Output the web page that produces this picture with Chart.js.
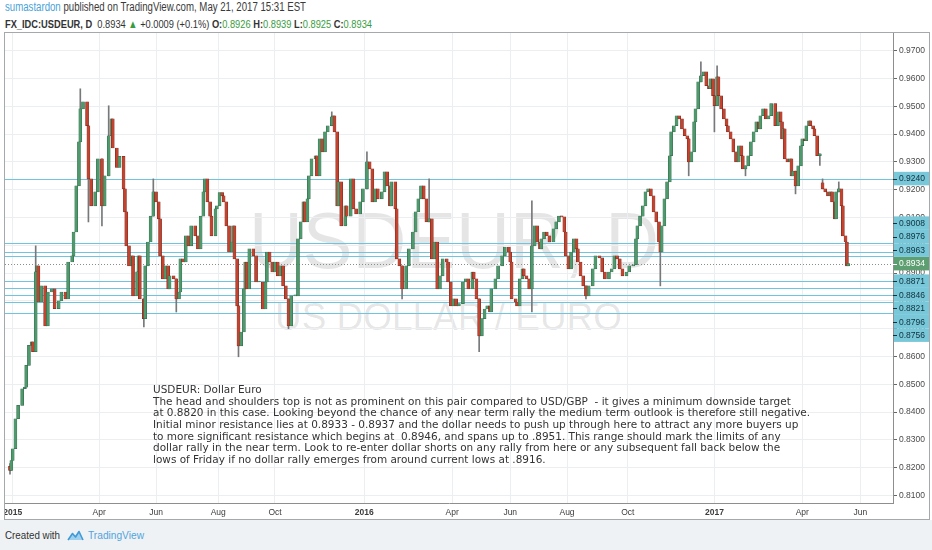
<!DOCTYPE html>
<html>
<head>
<meta charset="utf-8">
<script src="https://cdn.jsdelivr.net/npm/chart.js@4.4.1/dist/chart.umd.min.js"></script>
<style>
	html, body { margin:0; padding:0; }
	body { width:932px; height:550px; position:relative; overflow:hidden; background:#fff; font-family:'Liberation Sans', Arial, sans-serif; color:#333; }
	.fit { position:absolute; white-space:pre; transform-origin:0 0; }
	#hdr1 { left:5px; top:0px; font-size:12.5px; line-height:15px; color:#3a3a3a; }
	#hdr1 .user { color:#4aa3d8; }
	#hdr2 { left:5px; top:17px; font-size:11.5px; line-height:15px; color:#333; }
	#hdr2 .up { color:#3a9c40; }
	#box { position:absolute; left:4px; top:32px; width:924px; height:486px; border:1px solid #a6a9ac; }
	#box canvas { position:absolute; left:0; top:0; }
	.wm { position:absolute; white-space:pre; transform-origin:0 0; color:rgba(0,0,0,0.10); }
	#wm1 { left:244px; top:168px; font-size:80px; line-height:80px; }
	#wm2 { left:270px; top:264px; font-size:39px; line-height:39px; }
	#note { left:147.7px; top:351.4px; font-family:'DejaVu Sans', Verdana, sans-serif; font-size:11px; line-height:11.55px; color:#333; }
	#foot { position:absolute; left:0; top:520px; width:932px; height:30px; background:#eff2f5; }
	#foot .fit { top:0; line-height:30px; font-size:11.5px; }
	#created { left:5px; color:#333; }
	#tvname { left:88px; color:#4fa5dc; }
	#logo { position:absolute; left:67px; top:9px; }
</style>
</head>
<body>
<div id="hdr1" class="fit"><span class="user">sumastardon</span> published on TradingView.com, May 21, 2017 15:31 EST</div>
<div id="hdr2" class="fit"><b>FX_IDC:USDEUR, D</b>  0.8934 <span class="up">&#9650;</span> +0.0009 (+0.1%) <b>O:</b><span class="up">0.8926</span> <b>H:</b><span class="up">0.8939</span> <b>L:</b><span class="up">0.8925</span> <b>C:</b><span class="up">0.8934</span></div>

<div id="box">
	<div id="wm1" class="wm">USDEUR, D</div>
	<div id="wm2" class="wm">US DOLLAR / EURO</div>
	<canvas id="chart" width="924" height="486" style="width:924px;height:486px"></canvas>
	<div id="note" class="fit">USDEUR: Dollar Euro
<span id="noteRef">The head and shoulders top is not as prominent on this pair compared to</span> USD/GBP  - it gives a minimum downside target
at 0.8820 in this case. Looking beyond the chance of any near term rally the medium term outlook is therefore still negative.
Initial minor resistance lies at 0.8933 - 0.8937 and the dollar needs to push up through here to attract any more buyers up
to more significant resistance which begins at  0.8946, and spans up to .8951. This range should mark the limits of any
dollar rally in the near term. Look to re-enter dollar shorts on any rally from here or any subsequent fall back below the
lows of Friday if no dollar rally emerges from around current lows at .8916.</div>
</div>

<div id="foot">
	<div id="created" class="fit">Created with</div>
	<svg id="logo" width="17" height="12" viewBox="0 0 17 12">
		<path d="M1 11 L5.5 4.5 L8.5 8 L12 2.5 L16 11 Z" fill="#9fd0ee"/>
		<path d="M1 11 L5.5 4.5 L8.5 8 L12 2.5 L16 11" fill="none" stroke="#3f9ad6" stroke-width="1.6" stroke-linejoin="round"/>
	</svg>
	<div id="tvname" class="fit">TradingView</div>
</div>

<script>
// trading-day index (from 2 Jan 2015) and daily close
const days = [
	0,1,2,4,6,9,11,12,14,16,
	17,19,20,21,23,26,28,31,33,36,
	38,41,43,46,47,49,51,52,54,57,
	58,60,63,65,68,70,73,75,76,79,
	81,84,85,86,88,90,91,94,95,96,
	99,100,102,104,106,108,110,111,113,115,
	117,118,121,123,125,126,128,130,132,134,
	137,139,141,143,144,146,148,149,152,153,
	155,157,158,160,162,164,165,166,168,169,
	171,173,174,175,177,180,182,184,187,189,
	190,192,194,196,198,200,202,204,206,208,
	211,213,215,217,218,220,221,223,226,227,
	229,231,233,235,238,239,240,242,243,245,
	248,249,252,254,256,259,261,264,266,268,
	270,272,275,277,279,281,282,285,286,288,
	290,293,295,298,300,302,304,306,308,310,
	312,314,316,318,320,323,324,326,328,330,
	332,335,337,339,342,343,345,347,349,351,
	353,355,356,359,361,364,366,369,370,371,
	374,375,377,379,380,382,384,386,388,390,
	392,393,395,397,399,402,404,406,408,410,
	411,413,415,417,419,420,422,424,426,428,
	431,433,436,438,440,443,445,447,449,451,
	453,456,458,461,463,464,466,468,470,472,
	474,476,478,480,481,482,484,486,488,489,
	491,493,495,497,499,501,502,504,506,507,
	509,511,513,515,517,518,520,521,523,524,
	526,528,530,531,533,535,537,539,541,542,
	544,546,548,550,552,554,555,557,559,561,
	563,566,568,570,571,572,573,575,577,578,
	579,581,583,585,586,588,589,591,592,594,
	595,597,599,601,603,605,607,608,610,611,
	613,615,616,618,619,620
];
const closes = [
	.8190,.8226,.8268,.8376,.8424,.8484,.8490,.8568,.8640,.8653,
	.8617,.8905,.8926,.8796,.8854,.8710,.8832,.8843,.8772,.8800,
	.8832,.8807,.8940,.8962,.9048,.9214,.9372,.9491,.9516,.9430,
	.9239,.9142,.9192,.9311,.9142,.9250,.9394,.9455,.9350,.9280,
	.9320,.9203,.9120,.8998,.8926,.8962,.8818,.8905,.8962,.8807,
	.8736,.8926,.9012,.9105,.9192,.9156,.9095,.8962,.8879,.8926,
	.8843,.8890,.8879,.8807,.8832,.8951,.8940,.9034,.8998,.9070,
	.9034,.8987,.9105,.9192,.9239,.9156,.9105,.9034,.9131,.9142,
	.9190,.9178,.9156,.9070,.8976,.9012,.9070,.8951,.8782,.8638,
	.8688,.8843,.8940,.8843,.8987,.8962,.8868,.8868,.8771,.8868,
	.8976,.8940,.8904,.8940,.8890,.8926,.8854,.8807,.8710,.8818,
	.8818,.9023,.9084,.9156,.9084,.9167,.9250,.9311,.9322,.9250,
	.9383,.9336,.9408,.9430,.9462,.9466,.9408,.9142,.9228,.9070,
	.9142,.9105,.9239,.9131,.9113,.9156,.9203,.9300,.9275,.9156,
	.9203,.9167,.9192,.9264,.9214,.9142,.9228,.9131,.8951,.8926,
	.8843,.8926,.8987,.9048,.9120,.9167,.9214,.9167,.9084,.9095,
	.8951,.9012,.8843,.8890,.8951,.8940,.8868,.8782,.8807,.8782,
	.8790,.8868,.8879,.8843,.8904,.8879,.8807,.8674,.8736,.8771,
	.8782,.8760,.8843,.8879,.8926,.8962,.8994,.8976,.8940,.8807,
	.8796,.8782,.8879,.8915,.8890,.8879,.8843,.8998,.9070,.9012,
	.8987,.9023,.9048,.9034,.9012,.9059,.9084,.9105,.9102,.9048,
	.8962,.8915,.8976,.9023,.8987,.8940,.8890,.8854,.8818,.8854,
	.8915,.8962,.8955,.8904,.8879,.8904,.8915,.8962,.8951,.8915,
	.8890,.8904,.8926,.8930,.9023,.9070,.9105,.9142,.9192,.9203,
	.9178,.9120,.9084,.9012,.8976,.9070,.9167,.9228,.9322,.9408,
	.9430,.9466,.9455,.9419,.9394,.9383,.9300,.9336,.9444,.9491,
	.9588,.9610,.9624,.9574,.9563,.9599,.9538,.9502,.9606,.9538,
	.9491,.9455,.9430,.9408,.9383,.9336,.9300,.9358,.9322,.9275,
	.9286,.9322,.9372,.9408,.9444,.9419,.9466,.9491,.9455,.9466,
	.9510,.9430,.9480,.9444,.9383,.9419,.9311,.9300,.9311,.9250,
	.9267,.9214,.9286,.9358,.9383,.9376,.9430,.9448,.9430,.9419,
	.9394,.9322,.9329,.9203,.9192,.9178,.9192,.9156,.9095,.9192,
	.9203,.9142,.9034,.9012,.8926,.8934
];
const firstOpen = 0.8205;
// bars that opened away from the previous close (weekend gap)
const gapDays = [601];
const gapOpens = [0.9225];

// long shadows visible on the picture
const wickDays = [0,19,52,58,68,73,99,106,123,169,206,238,264,290,310,347,386,426,481,502,511,521,523,544,581,599,601,613];
const wickLows = [.8177,.8880,.9440,.9084,.9070,.9250,.8706,.9105,.8760,.8599,.8700,.9430,.9203,.8807,.9084,.8617,.8760,.8807,.8854,.9250,.9588,.9408,.9502,.9250,.9185,.9287,.9203,.9192];
const wickHighs = [.8215,.8998,.9563,.9430,.9311,.9502,.8807,.9239,.8879,.8782,.8807,.9480,.9336,.8926,.9239,.8807,.9160,.8854,.9012,.9383,.9660,.9538,.9646,.9286,.9267,.9329,.9239,.9228];

// time axis
const tickDays = [2,66,108,154,196,262,327,370,412,457,521,586,629];
const tickLabels = ['2015','Apr','Jun','Aug','Oct','2016','Apr','Jun','Aug','Oct','2017','Apr','Jun'];
// price axis
const priceTicks = [0.81,0.82,0.83,0.84,0.85,0.86,0.87,0.88,0.89,0.90,0.91,0.92,0.93,0.94,0.95,0.96,0.97];

// horizontal levels drawn by the author
const levelValues = [0.9240,0.9008,0.8976,0.8963,0.8871,0.8846,0.8821,0.8796,0.8756];
const lastPrice = 0.8934;

const UP = '#4f9a6c', UP_EDGE = '#2b6143', DOWN = '#c4432f', DOWN_EDGE = '#6a2218';

let bodyData = [], bodyFill = [], bodyEdge = [];
for (let i = 0; i < days.length; i++) {
	let g = gapDays.indexOf(days[i]);
	let open = g >= 0 ? gapOpens[g] : (i === 0 ? firstOpen : closes[i - 1]);
	bodyData.push({x: days[i], y: [open, closes[i]]});
	let up = closes[i] >= open;
	bodyFill.push(up ? UP : DOWN);
	bodyEdge.push(up ? UP_EDGE : DOWN_EDGE);
}
let wickData = wickDays.map(function (d, i) { return {x: d, y: [wickLows[i], wickHighs[i]]}; });

const levelsPlugin = {
	id: 'levels',
	beforeDatasetsDraw(chart) {
		const ctx = chart.ctx, a = chart.chartArea, y = chart.scales.y;
		ctx.save();
		ctx.lineWidth = 1;
		ctx.strokeStyle = '#6fc5dd';
		levelValues.forEach(function (v) {
			let py = Math.round(y.getPixelForValue(v)) + 0.5;
			ctx.beginPath(); ctx.moveTo(a.left, py); ctx.lineTo(a.right, py); ctx.stroke();
		});
		ctx.strokeStyle = '#8c8c8c';
		ctx.setLineDash([1, 2]);
		let py = Math.round(y.getPixelForValue(lastPrice)) + 0.5;
		ctx.beginPath(); ctx.moveTo(a.left, py); ctx.lineTo(a.right, py); ctx.stroke();
		ctx.restore();
	},
	afterDraw(chart) {
		const ctx = chart.ctx, y = chart.scales.y;
		const h = 13.5, left = y.left + 1, width = y.right - y.left - 1;
		let anchor = y.getPixelForValue(lastPrice);
		let labels = [{v: lastPrice, py: anchor, last: true}];
		let above = levelValues.filter(function (v) { return v > lastPrice; }).sort(function (p, q) { return p - q; });
		let below = levelValues.filter(function (v) { return v < lastPrice; }).sort(function (p, q) { return q - p; });
		let prev = anchor;
		above.forEach(function (v) { let p = Math.min(y.getPixelForValue(v), prev - h); labels.push({v: v, py: p}); prev = p; });
		prev = anchor;
		below.forEach(function (v) { let p = Math.max(y.getPixelForValue(v), prev + h); labels.push({v: v, py: p}); prev = p; });
		ctx.save();
		ctx.font = '8.5px "Liberation Sans", Arial, sans-serif';
		ctx.textBaseline = 'middle';
		labels.forEach(function (l) {
			ctx.fillStyle = l.last ? '#5d9f70' : '#78c8da';
			ctx.fillRect(left, l.py - h / 2, width, h);
			ctx.fillStyle = l.last ? '#ffffff' : '#10303a';
			ctx.fillRect(y.left, Math.round(l.py), 4, 1);
			ctx.fillText(l.v.toFixed(4), y.left + 6, l.py + 0.5);
		});
		ctx.restore();
	}
};

window.priceChart = new Chart(document.getElementById('chart').getContext('2d'), {
	type: 'bar',
	data: {
		datasets: [
			{
				data: bodyData,
				backgroundColor: bodyFill,
				borderColor: bodyEdge,
				borderWidth: 0.5,
				borderSkipped: false,
				barThickness: 3,
				minBarLength: 1,
				grouped: false
			},
			{
				data: wickData,
				backgroundColor: '#77787a',
				borderWidth: 0,
				barThickness: 1,
				grouped: false
			}
		]
	},
	options: {
		responsive: false,
		animation: false,
		events: [],
		layout: { padding: 0, autoPadding: false },
		plugins: { legend: { display: false }, tooltip: { enabled: false } },
		scales: {
			x: {
				type: 'linear',
				min: -3.7,
				max: 653.1,
				offset: false,
				grid: { color: '#eceff2', drawTicks: false, offset: false },
				border: { color: '#8e8e8e' },
				ticks: {
					autoSkip: false,
					maxRotation: 0,
					padding: 5,
					color: '#3c3c3c',
					font: function (c) {
						let t = tickLabels[c.index] || '';
						return { family: 'Liberation Sans', size: 8.5, weight: /^\d{4}$/.test(t) ? 'bold' : 'normal' };
					},
					callback: function (value, index) { return tickLabels[index]; }
				},
				afterBuildTicks: function (scale) { scale.ticks = tickDays.map(function (d) { return {value: d}; }); },
				afterFit: function (scale) {
					scale.height = 16;
					scale.paddingLeft = 0; scale.paddingRight = 0;
				}
			},
			y: {
				type: 'linear',
				position: 'right',
				min: 0.8073,
				max: 0.97637,
				grid: { color: '#eceff2', tickColor: '#666', tickLength: 4 },
				border: { color: '#8e8e8e' },
				ticks: {
					padding: 2,
					color: '#4a4a4a',
					font: { family: 'Liberation Sans', size: 8.5 },
					callback: function (value) { return value.toFixed(4); }
				},
				afterBuildTicks: function (scale) { scale.ticks = priceTicks.map(function (v) { return {value: v}; }); },
				afterFit: function (scale) {
					scale.width = 36;
					scale.paddingTop = 0; scale.paddingBottom = 0;
				}
			}
		}
	},
	plugins: [levelsPlugin]
});

// squeeze the page texts to the widths they have on the picture
function fit(id, target, refId) {
	let el = document.getElementById(id);
	let w = document.getElementById(refId || id).getBoundingClientRect().width;
	el.style.transform = 'scaleX(' + (target / w) + ')';
}
fit('hdr1', 301);
fit('hdr2', 367);
fit('wm1', 410);
fit('wm2', 347);
fit('note', 384, 'noteRef');
fit('created', 55);
fit('tvname', 56);
</script>
</body>
</html>
